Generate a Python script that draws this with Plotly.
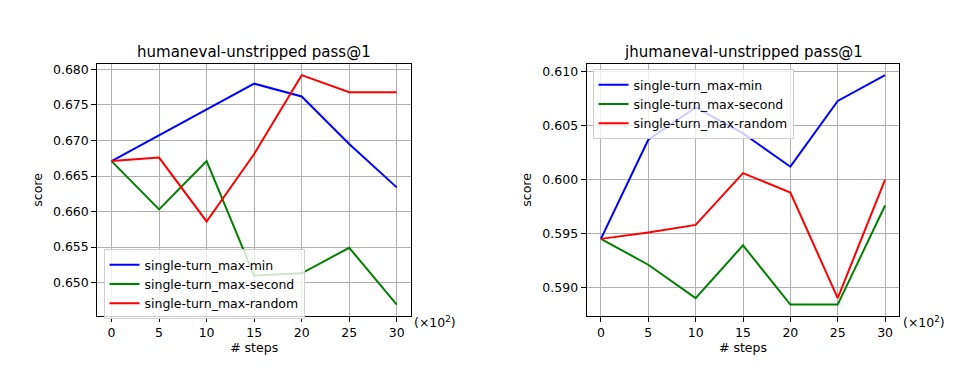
import plotly.graph_objects as go

steps = [0, 5, 10, 15, 20, 25, 30]
x_tick_labels = ["0", "5", "10", "15", "20", "25", "30"]

# humaneval-unstripped pass@1
he_min = [0.6671, 0.6707, 0.6744, 0.6780, 0.6762, 0.6695, 0.6634]
he_second = [0.6671, 0.6603, 0.6671, 0.6510, 0.6513, 0.6549, 0.6469]
he_random = [0.6671, 0.6676, 0.6586, 0.6681, 0.6792, 0.6768, 0.6768]

# jhumaneval-unstripped pass@1
jhe_min = [0.5945, 0.6037, 0.6067, 0.6043, 0.6012, 0.6073, 0.6097]
jhe_second = [0.5945, 0.5921, 0.5890, 0.5939, 0.5884, 0.5884, 0.5976]
jhe_random = [0.5945, 0.5951, 0.5958, 0.6006, 0.5988, 0.5890, 0.6000]

series_names = ["single-turn_max-min", "single-turn_max-second", "single-turn_max-random"]
colors = ["#0000ff", "#008000", "#ff0000"]

left_ticks = [0.650, 0.655, 0.660, 0.665, 0.670, 0.675, 0.680]
right_ticks = [0.590, 0.595, 0.600, 0.605, 0.610]

FONT = "DejaVu Sans"
FS = 12.5
TFS = 15
fig = go.Figure()

for vals, name, c in zip([he_min, he_second, he_random], series_names, colors):
    fig.add_trace(go.Scatter(x=steps, y=vals, mode="lines", name=name,
                             line=dict(color=c, width=2), xaxis="x", yaxis="y",
                             legend="legend"))
for vals, name, c in zip([jhe_min, jhe_second, jhe_random], series_names, colors):
    fig.add_trace(go.Scatter(x=steps, y=vals, mode="lines", name=name,
                             line=dict(color=c, width=2), xaxis="x2", yaxis="y2",
                             legend="legend2"))

def rng(*arrs):
    lo = min(min(a) for a in arrs)
    hi = max(max(a) for a in arrs)
    m = (hi - lo) * 0.05
    return [lo - m, hi + m]

axis_common = dict(showgrid=True, gridcolor="#b0b0b0", gridwidth=1.1,
                   showline=True, linecolor="black", linewidth=1.1, mirror=True,
                   ticks="outside", ticklen=5, tickwidth=1.1, tickcolor="black",
                   tickfont=dict(family=FONT, size=FS, color="black"),
                   zeroline=False)

W, H = 979, 382
top = 1 - 62 / H
bot = 1 - 315.7 / H

fig.update_layout(
    width=W, height=H,
    margin=dict(l=0, r=0, t=0, b=0),
    paper_bgcolor="white", plot_bgcolor="white",
    font=dict(family=FONT, size=FS, color="black"),
    xaxis=dict(domain=[97.3 / W, 411 / W], range=[-1.5, 31.5], anchor="y",
               tickmode="array", tickvals=steps, ticktext=x_tick_labels,
               title=dict(text="# steps", font=dict(size=FS), standoff=3), **axis_common),
    yaxis=dict(domain=[bot, top], range=rng(he_min, he_second, he_random), anchor="x",
               tickmode="array", tickvals=left_ticks, ticktext=[f"{v:.3f}" for v in left_ticks],
               title=dict(text="score", font=dict(size=FS), standoff=7), **axis_common),
    xaxis2=dict(domain=[586.7 / W, 899.3 / W], range=[-1.5, 31.5], anchor="y2",
                tickmode="array", tickvals=steps, ticktext=x_tick_labels,
                title=dict(text="# steps", font=dict(size=FS), standoff=3), **axis_common),
    yaxis2=dict(domain=[bot, top], range=rng(jhe_min, jhe_second, jhe_random), anchor="x2",
                tickmode="array", tickvals=right_ticks, ticktext=[f"{v:.3f}" for v in right_ticks],
                title=dict(text="score", font=dict(size=FS), standoff=7), **axis_common),
    legend=dict(x=103.5 / W, y=1 - 248.5 / H, xanchor="left", yanchor="top",
                bgcolor="rgba(255,255,255,0.8)", bordercolor="#d0d0d0", borderwidth=1,
                font=dict(family=FONT, size=FS), tracegroupgap=0, itemwidth=30),
    legend2=dict(x=592.5 / W, y=1 - 67.5 / H, xanchor="left", yanchor="top",
                 bgcolor="rgba(255,255,255,0.8)", bordercolor="#d0d0d0", borderwidth=1,
                 font=dict(family=FONT, size=FS), tracegroupgap=0, itemwidth=30),
    showlegend=True,
    annotations=[
        dict(text="humaneval-unstripped pass@1", x=(97.3 + 411) / 2 / W, y=1 - 50 / H,
             xref="paper", yref="paper", showarrow=False, xanchor="center", yanchor="middle",
             font=dict(family=FONT, size=TFS)),
        dict(text="jhumaneval-unstripped pass@1", x=(586.7 + 899.3) / 2 / W, y=1 - 50 / H,
             xref="paper", yref="paper", showarrow=False, xanchor="center", yanchor="middle",
             font=dict(family=FONT, size=TFS)),
        dict(text="(×10<sup>2</sup>)", x=412 / W, y=1 - 322 / H, xref="paper", yref="paper",
             showarrow=False, xanchor="left", yanchor="middle", font=dict(family=FONT, size=FS)),
        dict(text="(×10<sup>2</sup>)", x=900.5 / W, y=1 - 322 / H, xref="paper", yref="paper",
             showarrow=False, xanchor="left", yanchor="middle", font=dict(family=FONT, size=FS)),
    ],
)

fig.write_html("out.html", config={"displayModeBar": False},
               post_script="document.body.style.margin='0';")
